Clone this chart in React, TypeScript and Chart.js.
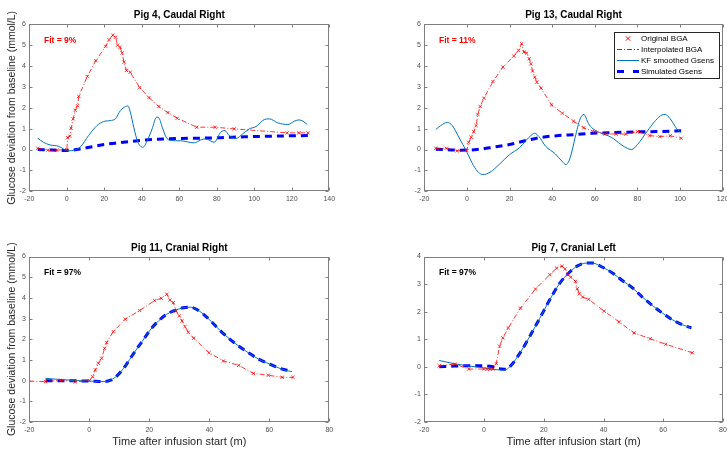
import React, { useEffect, useRef } from "react";
import { Chart, registerables } from "chart.js";

Chart.register(...registerables);

const FONT = '"Liberation Sans", Arial, Helvetica, sans-serif';

type Pt = [number, number];

// ---------- Pig 4, Caudal Right ----------
const bga4: Pt[] = [[-15.5,0.06],[-10.2,-0.03],[-5.4,-0.03],[0,0],[0.5,0.57],[1.6,0.64],[2.3,1.02],[3.4,1.47],[4.5,1.88],[5.7,2.1],[6.4,2.55],[10.9,3.5],[15.5,4.26],[20.7,4.95],[22.5,5.26],[24.6,5.48],[26,5.38],[27.1,5.0],[28.4,4.9],[29.5,4.63],[30.5,4.19],[31.8,3.79],[33.8,3.7],[38.9,2.97],[43.8,2.49],[49.1,2.06],[53.9,1.77],[58.9,1.5],[69.3,1.07],[79.1,1.07],[89.3,0.99],[117.5,0.8],[123.8,0.8],[128.6,0.8]];
const interp4: Pt[] = bga4;
const kf4: Pt[] = [[-15.5,0.54],[-12.5,0.35],[-8.9,0.22],[-4.5,0.16],[-1.8,0.03],[0,-0.06],[2.7,-0.05],[7.1,0.11],[11.6,0.67],[16.1,1.15],[19.6,1.34],[23.2,1.39],[25.9,1.47],[28.6,1.87],[31.3,2.06],[32.5,2.09],[33.9,1.79],[35.7,1.07],[37.9,0.35],[40.7,0.11],[42.9,0.43],[45.5,0.99],[47.9,1.55],[49.1,1.52],[50.9,1.07],[53,0.59],[55.4,0.43],[60.7,0.42],[67.9,0.32],[71.4,0.46],[74.1,0.51],[78.6,0.35],[82.1,0.83],[84.3,0.91],[86.6,0.67],[90.2,0.53],[93.8,0.75],[97.3,0.99],[100.9,1.1],[105.4,1.44],[108,1.47],[112.5,1.28],[117.9,1.2],[121.4,1.36],[123.8,1.42],[125.9,1.36],[128.2,1.2]];
const sim4: Pt[] = [[-15.5,0.0],[-8,-0.02],[0,-0.05],[7,0.03],[12,0.11],[20,0.24],[27,0.32],[35,0.4],[45,0.48],[55,0.52],[65,0.54],[75,0.55],[85,0.58],[95,0.61],[105,0.63],[115,0.65],[128.6,0.67]];

// ---------- Pig 13, Caudal Right ----------
const bga13: Pt[] = [[-14.6,0.06],[-9.7,0.06],[-4.6,-0.06],[0,-0.05],[0.8,0.35],[2,0.59],[3.2,0.86],[4.3,1.15],[5.1,1.68],[6.2,2.06],[8,2.46],[12.2,3.26],[16.9,3.95],[22,4.48],[24.2,4.75],[25.7,5.07],[26.8,4.67],[28,4.62],[29.2,4.35],[30,4.11],[30.8,3.76],[31.8,3.47],[32.8,3.23],[34.8,2.94],[39.7,2.14],[44.8,1.74],[50,1.36],[54.8,1.04],[60,0.86],[64.9,0.75],[70,0.74],[74.6,0.74],[80,0.86],[85.8,0.67],[90.5,0.62],[95.4,0.66],[100.5,0.54]];
const interp13: Pt[] = bga13;
const kf13: Pt[] = [[-14.6,0.96],[-12.3,1.15],[-9.2,1.3],[-6.9,1.15],[-3.8,0.59],[0,-0.13],[3.1,-0.77],[5.4,-1.09],[7.4,-1.2],[10.8,-1.09],[15.4,-0.69],[20,-0.24],[24.6,0.08],[27.7,0.43],[30,0.67],[31.8,0.78],[33.8,0.62],[36.9,0.16],[41.5,-0.21],[44.6,-0.56],[46.5,-0.72],[48.5,-0.37],[50.8,0.59],[53.1,1.47],[54.9,1.68],[56.9,1.26],[59.2,0.99],[63.1,0.78],[67.7,0.59],[72.3,0.24],[75.4,0.05],[77.2,0.0],[80,0.24],[84.6,0.88],[88.5,1.39],[91.5,1.66],[93.1,1.68],[95.4,1.47],[98.5,0.99],[100.3,0.83]];
const sim13: Pt[] = [[-14.6,0.02],[-3,-0.03],[4.6,0.0],[12.3,0.11],[20,0.24],[27.7,0.43],[35.4,0.59],[43.1,0.67],[50.8,0.72],[58.5,0.78],[66.2,0.8],[73.8,0.83],[81.5,0.85],[89.2,0.86],[100.5,0.9]];

// ---------- Pig 11, Cranial Right ----------
const bga11: Pt[] = [[-14.6,-0.05],[-9.6,0.02],[-4.7,-0.06],[0,0],[1.1,0.19],[2,0.52],[3,0.84],[4.1,1.08],[5.1,1.56],[5.8,1.84],[8,2.37],[12,2.97],[16.8,3.39],[21.8,3.87],[24,3.98],[25.8,4.18],[26.9,3.9],[28,3.77],[28.9,3.37],[30,3.13],[30.9,2.89],[31.9,2.61],[33,2.34],[34.8,2.05],[39.9,1.35],[44.7,0.95],[49.8,0.74],[54.7,0.35],[59.7,0.26],[64.3,0.16],[67.9,0.16]];
const interp11: Pt[] = [[-20,-0.02], ...bga11];
const kf11: Pt[] = [[-14.6,0.11],[-9.3,0.05],[-3.8,0.0],[1.6,-0.03],[4.9,-0.05],[7.1,0.03],[9.3,0.24],[12.1,0.73],[14.8,1.32],[17.6,1.89],[20.3,2.45],[23.1,2.89],[25.8,3.21],[28.6,3.4],[31.3,3.52],[33.7,3.55],[35.7,3.45],[37.9,3.23],[40.7,2.85],[43.4,2.45],[46.7,2.02],[50,1.65],[53.3,1.32],[56.6,1.03],[59.9,0.81],[63.2,0.61],[65.9,0.48],[67.6,0.44]];
const sim11: Pt[] = [[-14.6,0.0],[-10,0.0],[-5,-0.01],[0,-0.02],[5,-0.05],[7.1,0.02],[9.3,0.24],[12.1,0.73],[14.8,1.32],[17.6,1.89],[20.3,2.45],[23.1,2.89],[25.8,3.21],[28.6,3.4],[31.3,3.52],[33.7,3.55],[35.7,3.45],[37.9,3.23],[40.7,2.85],[43.4,2.45],[46.7,2.02],[50,1.65],[53.3,1.32],[56.6,1.03],[59.9,0.81],[63.2,0.61],[65.9,0.5],[67.6,0.46]];

// ---------- Pig 7, Cranial Left ----------
const bga7: Pt[] = [[-15,0.04],[-9.8,0.1],[-5.1,-0.08],[-0.1,-0.08],[1,-0.09],[2,-0.09],[3,-0.08],[4.1,0.12],[5.2,0.75],[6.3,1.05],[8.1,1.41],[12.2,2.13],[17.2,2.82],[22,3.34],[24.3,3.58],[26.1,3.65],[27.1,3.55],[28.1,3.34],[29,3.25],[30.6,3.1],[31.2,2.83],[31.9,2.65],[33,2.53],[35,2.45],[40.2,2.02],[45.2,1.63],[50.2,1.23],[55.6,1.02],[60.8,0.82],[69.7,0.51]];
const interp7: Pt[] = bga7;
const kf7: Pt[] = [[-15,0.23],[-10.3,0.12],[-5.9,0.04],[-1.4,-0.02],[3,-0.08],[5.8,-0.12],[7.4,-0.1],[9.1,0.06],[11.9,0.48],[15.2,1.08],[18.6,1.75],[21.9,2.41],[25.2,3.01],[28.6,3.43],[31.3,3.66],[34.1,3.76],[36.3,3.76],[39.7,3.61],[43,3.4],[46.3,3.13],[49.7,2.86],[53,2.53],[56.3,2.23],[59.7,1.95],[63,1.71],[66.3,1.53],[69.4,1.41]];
const sim7: Pt[] = [[-15,0.0],[-10,0.03],[-5,0.04],[-1,0.04],[3,0.0],[6,-0.08],[7.4,-0.09],[9.1,0.06],[11.9,0.48],[15.2,1.08],[18.6,1.75],[21.9,2.41],[25.2,3.01],[28.6,3.43],[31.3,3.66],[34.1,3.76],[36.3,3.76],[39.7,3.61],[43,3.4],[46.3,3.13],[49.7,2.86],[53,2.53],[56.3,2.23],[59.7,1.95],[63,1.71],[66.3,1.53],[69.4,1.41]];

const LEGEND_LABELS = ["Original BGA", "Interpolated BGA", "KF smoothed Gsens", "Simulated Gsens"];
const Y_LABEL = "Glucose deviation from baseline (mmol/L)";
const X_LABEL = "Time after infusion start (m)";

type Panel = {
  title: string;
  fit: string;
  fitColor: string;
  xMin: number; xMax: number; yMin: number; yMax: number;
  bga: Pt[]; interp: Pt[]; kf: Pt[]; sim: Pt[];
  area: { L: number; R: number; T: number; B: number };
  ylabel: boolean; xlabel: boolean; legend: boolean;
};

const PANELS: Panel[] = [
  { title: "Pig 4, Caudal Right", fit: "Fit = 9%", fitColor: "#ff0000", xMin: -20, xMax: 140, yMin: -2, yMax: 6,
    bga: bga4, interp: interp4, kf: kf4, sim: sim4, area: { L: 29.3, R: 329.3, T: 24.3, B: 191.3 }, ylabel: true, xlabel: false, legend: false },
  { title: "Pig 13, Caudal Right", fit: "Fit = 11%", fitColor: "#ff0000", xMin: -20, xMax: 120, yMin: -2, yMax: 6,
    bga: bga13, interp: interp13, kf: kf13, sim: sim13, area: { L: 424.3, R: 722.7, T: 24.3, B: 191.3 }, ylabel: false, xlabel: false, legend: true },
  { title: "Pig 11, Cranial Right", fit: "Fit = 97%", fitColor: "#000000", xMin: -20, xMax: 80, yMin: -2, yMax: 6,
    bga: bga11, interp: interp11, kf: kf11, sim: sim11, area: { L: 29.3, R: 329.3, T: 256.5, B: 422 }, ylabel: true, xlabel: true, legend: false },
  { title: "Pig 7, Cranial Left", fit: "Fit = 97%", fitColor: "#000000", xMin: -20, xMax: 80, yMin: -2, yMax: 4,
    bga: bga7, interp: interp7, kf: kf7, sim: sim7, area: { L: 424.3, R: 723, T: 256.5, B: 422 }, ylabel: false, xlabel: true, legend: false },
];

const toXY = (a: Pt[]) => a.map(([x, y]) => ({ x, y }));

const W = 727, H = 450;

const matlabPlugin = {
  id: "matlab",
  afterDraw(chart: any) {
    const o = chart.options.plugins.matlab;
    if (!o) return;
    const { ctx, chartArea: a, scales } = chart;
    const xs = scales.x, ys = scales.y;
    ctx.save();
    ctx.setLineDash([]);
    // box
    ctx.strokeStyle = "#7f7f7f";
    ctx.lineWidth = 1;
    const L = Math.round(a.left) + 0.5, R = Math.round(a.right) - 0.5;
    const T = Math.round(a.top) + 0.5, B = Math.round(a.bottom) - 0.5;
    ctx.strokeRect(L, T, R - L, B - T);
    // inward ticks
    ctx.beginPath();
    xs.ticks.forEach((t: any) => {
      const px = Math.round(xs.getPixelForValue(t.value)) + 0.5;
      ctx.moveTo(px, B); ctx.lineTo(px, B - 3);
      ctx.moveTo(px, T); ctx.lineTo(px, T + 3);
    });
    ys.ticks.forEach((t: any) => {
      const py = Math.round(ys.getPixelForValue(t.value)) + 0.5;
      ctx.moveTo(L, py); ctx.lineTo(L + 3, py);
      ctx.moveTo(R, py); ctx.lineTo(R - 3, py);
    });
    ctx.stroke();
    const cx = (a.left + a.right) / 2;
    // title
    ctx.fillStyle = "#000";
    ctx.font = `bold 10px ${FONT}`;
    ctx.textAlign = "center";
    ctx.textBaseline = "middle";
    ctx.fillText(o.title, cx, a.top - 8.6);
    // fit
    ctx.fillStyle = o.fitColor;
    ctx.font = `bold 8.5px ${FONT}`;
    ctx.textAlign = "left";
    ctx.fillText(o.fit, a.left + 14.7, a.top + 16);
    // y label
    if (o.ylabel) {
      ctx.save();
      ctx.translate(12.3, (a.top + a.bottom) / 2);
      ctx.rotate(-Math.PI / 2);
      ctx.fillStyle = "#262626";
      ctx.font = `10.5px ${FONT}`;
      ctx.textAlign = "center";
      ctx.textBaseline = "middle";
      ctx.fillText(Y_LABEL, 0, 0);
      ctx.restore();
    }
    if (o.xlabel) {
      ctx.fillStyle = "#262626";
      ctx.font = `11px ${FONT}`;
      ctx.textAlign = "center";
      ctx.textBaseline = "middle";
      ctx.fillText(X_LABEL, cx, 441.7);
    }
    if (o.legend) {
      const bx = 614.5, by = 32.5, bw = 105, bh = 46;
      ctx.fillStyle = "#fff";
      ctx.fillRect(bx, by, bw, bh);
      ctx.strokeStyle = "#262626";
      ctx.lineWidth = 1;
      ctx.strokeRect(bx, by, bw, bh);
      const ds = chart.data.datasets;
      ds.forEach((d: any, i: number) => {
        const y = by + 6 + 11 * i;
        const x0 = 617, x1 = 639;
        ctx.save();
        ctx.strokeStyle = d.borderColor;
        ctx.lineWidth = Math.max(1, d.borderWidth);
        if (d.showLine === false) {
          const r = 2.2, mx = 628;
          ctx.beginPath();
          ctx.moveTo(mx - r, y - r); ctx.lineTo(mx + r, y + r);
          ctx.moveTo(mx - r, y + r); ctx.lineTo(mx + r, y - r);
          ctx.stroke();
        } else {
          ctx.setLineDash(d.borderWidth >= 2 ? [7, 9] : (d.borderDash || []));
          ctx.beginPath();
          ctx.moveTo(x0, y); ctx.lineTo(x1, y);
          ctx.stroke();
        }
        ctx.restore();
        ctx.fillStyle = "#000";
        ctx.font = `8px ${FONT}`;
        ctx.textAlign = "left";
        ctx.textBaseline = "middle";
        ctx.fillText(d.label, 641, y + 0.5);
      });
    }
    ctx.restore();
  },
};

function PanelChart({ p }: { p: Panel }) {
  const ref = useRef<HTMLCanvasElement | null>(null);
  useEffect(() => {
    if (!ref.current) return;
    const { L, R, T, B } = p.area;
    const chart = new Chart(ref.current, {
      type: "line",
      data: {
        datasets: [
          { label: LEGEND_LABELS[0], data: toXY(p.bga), showLine: false, pointStyle: "crossRot", pointRadius: 2.3, borderColor: "#ff0000", borderWidth: 0.8, backgroundColor: "transparent" },
          { label: LEGEND_LABELS[1], data: toXY(p.interp), borderColor: "#ff0000", borderWidth: 0.8, borderDash: [5, 2, 1, 2], pointRadius: 0, fill: false },
          { label: LEGEND_LABELS[2], data: toXY(p.kf), borderColor: "rgb(0,114,189)", borderWidth: 1, pointRadius: 0, fill: false, cubicInterpolationMode: "monotone" },
          { label: LEGEND_LABELS[3], data: toXY(p.sim), borderColor: "#0000ff", borderWidth: 3, borderDash: [7, 5], pointRadius: 0, fill: false, cubicInterpolationMode: "monotone" },
        ] as any,
      },
      options: {
        responsive: false,
        maintainAspectRatio: false,
        animation: false,
        events: [],
        layout: { autoPadding: false, padding: { left: L - 10, right: W - R, top: T, bottom: H - B - 10 } },
        plugins: {
          legend: { display: false },
          tooltip: { enabled: false },
          matlab: { title: p.title, fit: p.fit, fitColor: p.fitColor, ylabel: p.ylabel, xlabel: p.xlabel, legend: p.legend },
        } as any,
        scales: {
          x: {
            type: "linear", min: p.xMin, max: p.xMax,
            grid: { display: false, drawTicks: false },
            border: { display: false },
            ticks: { stepSize: 20, autoSkip: false, maxRotation: 0, padding: 4, color: "#4d4d4d", font: { size: 7, family: FONT } },
            afterFit: (s: any) => { s.height = 10; s.paddingLeft = 0; s.paddingRight = 0; },
          },
          y: {
            type: "linear", min: p.yMin, max: p.yMax,
            grid: { display: false, drawTicks: false },
            border: { display: false },
            ticks: { stepSize: 1, autoSkip: false, padding: 3.5, color: "#4d4d4d", font: { size: 7, family: FONT } },
            afterFit: (s: any) => { s.width = 10; s.paddingTop = 0; s.paddingBottom = 0; },
          },
        },
      } as any,
      plugins: [matlabPlugin],
    });
    return () => chart.destroy();
  }, [p]);
  return <canvas ref={ref} width={W} height={H} style={{ position: "absolute", left: 0, top: 0, width: W, height: H }} />;
}

export default function App() {
  return (
    <div style={{ position: "absolute", left: 0, top: 0, width: W, height: H, background: "#fff", overflow: "hidden" }}>
      {PANELS.map((p, i) => <PanelChart key={i} p={p} />)}
    </div>
  );
}
